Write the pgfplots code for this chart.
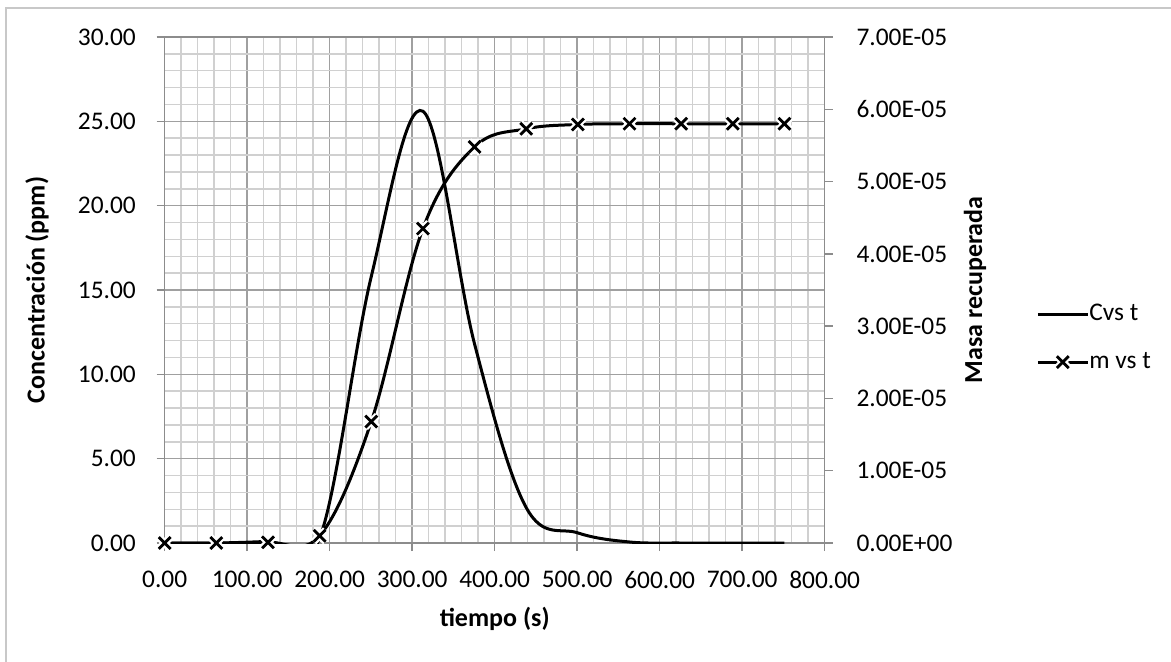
\documentclass[border=0pt]{standalone}
\usepackage{fontspec}
\setmainfont{Carlito}
\usepackage{pgfplots}
\usepackage{pgfplotstable}
\pgfplotsset{compat=1.18}
\definecolor{gmaj}{HTML}{A0A0A0}
\definecolor{gmin}{HTML}{D0D0D0}
\definecolor{axc}{HTML}{8C8C8C}
\definecolor{frm}{HTML}{C8C8C8}

% tiempo (s), concentracion (ppm), masa recuperada
\pgfplotstableread{
t      C     m
0      0     0
62.6   0     0
125.2  0.1   0.01e-5
187.8  0.3   0.10e-5
250.4  15.8  1.68e-5
313.0  25.6  4.35e-5
375.6  11.8  5.48e-5
438.2  2.1   5.73e-5
500.8  0.6   5.79e-5
563.4  0.06  5.80e-5
626.0  0     5.80e-5
688.6  0     5.80e-5
751.2  0     5.80e-5
}\datos

\pgfplotsset{
  comun/.style={
    scale only axis, width=330pt, height=253pt,
    at={(0,0)}, anchor=south west,
    xmin=0, xmax=800,
    tick align=outside, major tick length=4pt, minor tick length=0pt,
    tick style={axc, line width=0.75pt},
    axis line style={axc, line width=0.75pt},
    ticklabel style={font=\fontsize{12.7}{15}\selectfont},
    label style={font=\fontsize{13}{15}\selectfont\bfseries},
  },
  legC/.style={legend image code/.code={\draw[black, line width=1.5pt] (0pt,0pt) -- (25pt,0pt);}},
  legM/.style={legend image code/.code={
    \draw[black, line width=1.5pt] (0pt,0pt) -- (25pt,0pt);
    \draw[mark=x, mark size=4.2pt, mark options={white, line width=3.6pt}] plot coordinates {(12.5pt,0pt)};
    \draw[mark=x, mark size=4.2pt, mark options={black, line width=1.4pt}] plot coordinates {(12.5pt,0pt)};
  }},
}

\begin{document}
\fontsize{12.7}{15}\selectfont
\begin{tikzpicture}
\useasboundingbox (-82.35pt,-59pt) rectangle (503.15pt,271.5pt);
\draw[frm, line width=0.75pt] (-79.3pt,-62pt) -- (-79.3pt,267.6pt) -- (506pt,267.6pt);

\begin{axis}[
  comun,
  ymin=0, ymax=30,
  xtick distance=100, ytick distance=5,
  minor x tick num=4, minor y tick num=4,
  xtick pos=bottom, ytick pos=left,
  grid=both,
  major grid style={gmaj, line width=0.75pt},
  minor grid style={gmin, line width=0.75pt},
  xticklabel style={yshift=-5.5pt, /pgf/number format/.cd, fixed, fixed zerofill, precision=2, assume math mode=true},
  yticklabel style={xshift=-6pt, /pgf/number format/.cd, fixed, fixed zerofill, precision=2, assume math mode=true},
  xlabel={tiempo (s)}, ylabel={Concentración (ppm)},
  xlabel style={at={(axis description cs:0.5,-0.150)}, anchor=center},
  ylabel style={at={(axis description cs:-0.1935,0.5)}, anchor=center},
]
\addplot[black, line width=1.5pt, smooth, tension=0.6] table[x=t, y=C] {\datos};
\end{axis}

\begin{axis}[
  comun,
  ymin=0, ymax=7e-5,
  axis x line=none, axis y line*=right,
  scaled y ticks=false,
  ytick={0,1e-5,2e-5,3e-5,4e-5,5e-5,6e-5,7e-5},
  yticklabels={0.00E+00,1.00E-05,2.00E-05,3.00E-05,4.00E-05,5.00E-05,6.00E-05,7.00E-05},
  yticklabel style={xshift=7.5pt},
  ylabel={Masa recuperada},
  ylabel style={at={(axis description cs:1.2277,0.5)}, anchor=center, rotate=0},
  clip mode=individual,
  legend style={at={(axis description cs:1.32,0.405)}, anchor=west,
    draw=none, fill=none, inner sep=0pt, row sep=12pt,
    font=\fontsize{12.7}{15}\selectfont,
    nodes={inner sep=0pt, text height=9pt, text depth=3pt}},
  legend cell align=left,
  /tikz/every even column/.append style={column sep=4pt},
]
\addlegendimage{legC}
\addlegendentry{Cvs t}
\addlegendimage{legM}
\addlegendentry{m vs t}
\addplot[black, line width=1.5pt, smooth, tension=0.6, forget plot] table[x=t, y=m] {\datos};
\addplot[only marks, mark=x, mark size=4.2pt, white, line width=3.6pt, forget plot] table[x=t, y=m] {\datos};
\addplot[only marks, mark=x, mark size=4.2pt, black, line width=1.4pt, forget plot] table[x=t, y=m] {\datos};
\end{axis}
\end{tikzpicture}
\end{document}
